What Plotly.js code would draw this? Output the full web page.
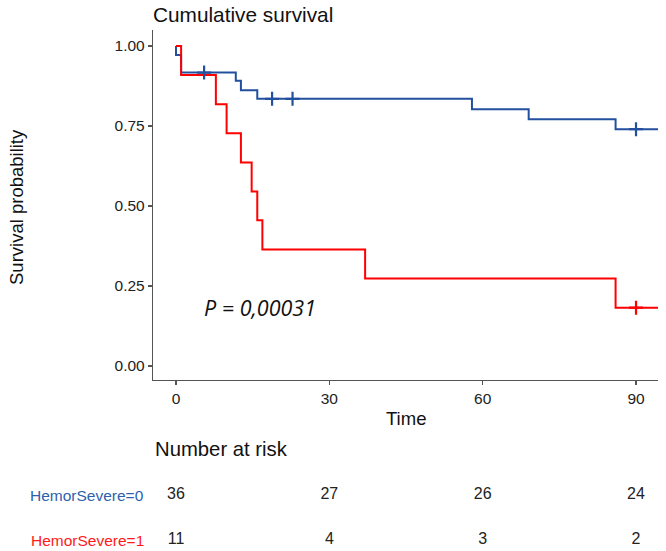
<!DOCTYPE html>
<html>
<head>
<meta charset="utf-8">
<script src="https://cdn.plot.ly/plotly-3.0.1.min.js"></script>
<style>html,body{margin:0;padding:0;background:#fff;}#chart{width:666px;height:551px;}</style>
</head>
<body>
<div id="chart"></div>
<script>
// Kaplan-Meier step data
const group0Label = "HemorSevere=0";
const group1Label = "HemorSevere=1";
const time0 = [0, 0, 1, 11.7, 12.7, 15.9, 57.9, 69, 86, 95];
const surv0 = [1, 0.972, 0.917, 0.891, 0.862, 0.835, 0.802, 0.771, 0.740, 0.740];
const time1 = [0, 1, 7.8, 9.9, 12.7, 14.8, 15.9, 16.9, 37, 86, 95];
const surv1 = [1, 0.909, 0.818, 0.727, 0.636, 0.545, 0.455, 0.364, 0.273, 0.182, 0.182];
const censorTime0 = [5.5, 18.8, 22.8, 90];
const censorSurv0 = [0.917, 0.835, 0.835, 0.740];
const censorTime1 = [90];
const censorSurv1 = [0.182];
// Number at risk table
const riskTimes = [0, 30, 60, 90];
const risk0 = [36, 27, 26, 24];
const risk1 = [11, 4, 3, 2];
const xTicks = [0, 30, 60, 90];
const yTicks = [0, 0.25, 0.5, 0.75, 1];
const yTickText = ["0.00", "0.25", "0.50", "0.75", "1.00"];
const pText = "P = 0,00031";

const blue = "#22509f";
const red = "#ff0000";
const font = "Liberation Sans, Arial, sans-serif";

const traces = [
  {x: time0, y: surv0, type: "scatter", mode: "lines", line: {shape: "hv", color: blue, width: 2}, xaxis: "x", yaxis: "y", hoverinfo: "skip"},
  {x: time1, y: surv1, type: "scatter", mode: "lines", line: {shape: "hv", color: red, width: 2}, xaxis: "x", yaxis: "y", hoverinfo: "skip"},
  {x: censorTime0, y: censorSurv0, type: "scatter", mode: "markers", marker: {symbol: "cross-thin-open", size: 10, color: blue, line: {color: blue, width: 2.2}}, xaxis: "x", yaxis: "y"},
  {x: censorTime1, y: censorSurv1, type: "scatter", mode: "markers", marker: {symbol: "cross-thin-open", size: 10, color: red, line: {color: red, width: 2.2}}, xaxis: "x", yaxis: "y"},
  {x: riskTimes, y: risk0.map(() => 1), text: risk0.map(String), type: "scatter", mode: "text", textposition: "middle center", textfont: {family: font, size: 16, color: "#222"}, xaxis: "x2", yaxis: "y2"},
  {x: riskTimes, y: risk1.map(() => 0), text: risk1.map(String), type: "scatter", mode: "text", textposition: "middle center", textfont: {family: font, size: 16, color: "#222"}, xaxis: "x2", yaxis: "y2"}
];

const layout = {
  width: 666, height: 551,
  margin: {l: 153, r: 8, t: 30, b: 0},
  paper_bgcolor: "#fff", plot_bgcolor: "#fff",
  showlegend: false,
  font: {family: font, color: "#222"},
  title: {text: "Cumulative survival", font: {family: font, size: 20.8, color: "#111"}, x: 0, xref: "paper", xanchor: "left", y: 1 - 15/551, yref: "container", yanchor: "middle"},
  xaxis: {domain: [0, 1], range: [-4.5, 94.3], tickvals: xTicks, ticks: "outside", ticklen: 4, tickcolor: "#555", tickwidth: 1.2,
          showline: true, linecolor: "#555", linewidth: 1.2, showgrid: false, zeroline: false, anchor: "y",
          tickfont: {family: font, size: 15.5, color: "#222"}},
  yaxis: {domain: [171/521, 1], range: [-0.044, 1.05], tickvals: yTicks, ticktext: yTickText, ticks: "outside", ticklen: 4, tickcolor: "#555", tickwidth: 1.2,
          showline: true, linecolor: "#555", linewidth: 1.2, showgrid: false, zeroline: false, anchor: "x",
          tickfont: {family: font, size: 15.5, color: "#222"}},
  xaxis2: {domain: [0, 1], range: [-4.5, 94.3], visible: false, anchor: "y2"},
  yaxis2: {domain: [0, 0.2], range: [-0.244, 2.071], visible: false, anchor: "x2"},
  annotations: [
    {text: "Survival probability", textangle: -90, xref: "paper", yref: "paper", x: (16-153)/505, y: (551-207)/521, xanchor: "center", yanchor: "middle", showarrow: false, font: {family: font, size: 18.5, color: "#111"}},
    {text: "Time", xref: "paper", yref: "paper", x: 0.5, y: (551-418)/521, xanchor: "center", yanchor: "middle", showarrow: false, font: {family: font, size: 18.5, color: "#111"}},
    {text: "Number at risk", xref: "paper", yref: "paper", x: 0, y: (551-449)/521, xanchor: "left", yanchor: "middle", showarrow: false, font: {family: font, size: 20.3, color: "#111"}},
    {text: group0Label, xref: "paper", yref: "y2", x: (146-153)/505, y: 1, xanchor: "right", yanchor: "middle", showarrow: false, font: {family: font, size: 15.5, color: "#2f5fae"}},
    {text: group1Label, xref: "paper", yref: "y2", x: (146-153)/505, y: 0, xanchor: "right", yanchor: "middle", showarrow: false, font: {family: font, size: 15.5, color: "#ff1a1a"}},
    {text: "<i>" + pText + "</i>", xref: "x", yref: "y", x: 5.0, y: 0.184, xanchor: "left", yanchor: "middle", showarrow: false, font: {family: "Open Sans, sans-serif", size: 21.5, color: "#111"}}
  ]
};

Plotly.newPlot("chart", traces, layout, {staticPlot: true, displayModeBar: false});
</script>
</body>
</html>
